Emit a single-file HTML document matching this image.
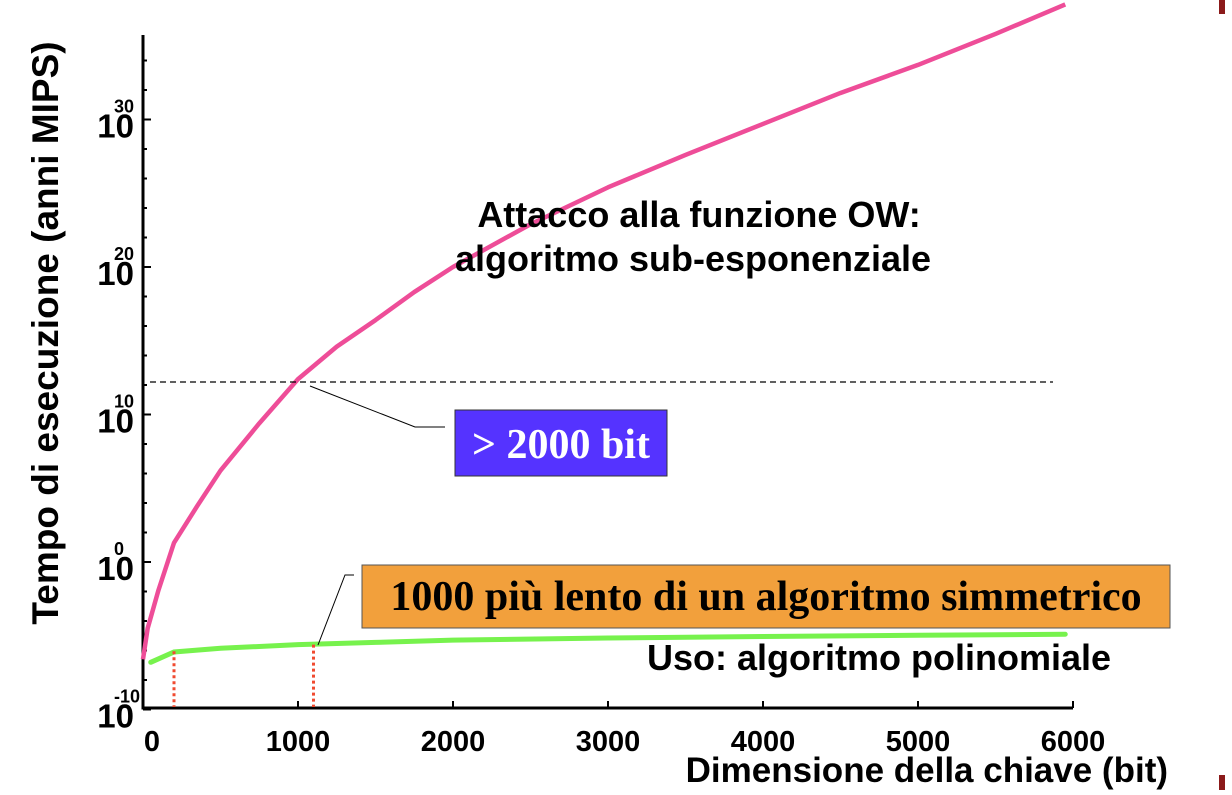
<!DOCTYPE html>
<html><head><meta charset="utf-8"><style>
body{margin:0;background:#fff;width:1232px;height:790px;overflow:hidden}
svg text{font-family:"Liberation Sans",sans-serif;font-weight:bold}
</style></head><body>
<svg id="chart" width="1232" height="790" xmlns="http://www.w3.org/2000/svg">
<rect x="1219" y="0" width="6" height="14" fill="#8b1a1a"/>
<rect x="1219" y="775" width="6" height="15" fill="#8b1a1a"/>
<g id="axes"></g>
<g id="marks"></g>
<text x="58" y="333" font-size="37" text-anchor="middle" transform="rotate(-90 58 333)">Tempo di esecuzione  (anni MIPS)</text>
<text x="1168" y="782" font-size="35" text-anchor="end">Dimensione della chiave (bit)</text>
<text x="699" y="227" font-size="36" text-anchor="middle">Attacco alla funzione OW:</text>
<text x="693" y="271" font-size="36" text-anchor="middle">algoritmo sub-esponenziale</text>
<text x="879" y="670" font-size="36" text-anchor="middle">Uso: algoritmo polinomiale</text>
<line x1="150" y1="382" x2="1053" y2="382" stroke="#000" stroke-width="1.2" stroke-dasharray="6,4"/>
<polyline points="310,386 415,427 445,427" fill="none" stroke="#000" stroke-width="1"/>
<rect x="455" y="410" width="212" height="66" fill="#5533ff" stroke="#333" stroke-width="1"/>
<text x="561" y="458" font-size="42" fill="#fff" text-anchor="middle" style="font-family:'Liberation Serif',serif">&gt; 2000 bit</text>
<polyline points="318,645 345,575 354,575" fill="none" stroke="#000" stroke-width="1"/>
<rect x="362" y="565" width="808" height="63" fill="#f2a03c" stroke="#555" stroke-width="1"/>
<text x="766" y="610" font-size="42" fill="#000" text-anchor="middle" style="font-family:'Liberation Serif',serif">1000 più lento di un algoritmo simmetrico</text>
</svg>
<script>
const xTicks=[0,1000,2000,3000,4000,5000,6000];
const yTicks=[-10,0,10,20,30];
const pinkX=[0,30,100,200,350,500,750,1000,1250,1500,1750,2000,2500,3000,3500,4000,4500,5000,5500,5950];
const pinkY=[-6.6,-4.5,-1.9,1.3,3.8,6.2,9.4,12.4,14.6,16.4,18.3,20.0,22.9,25.4,27.6,29.7,31.8,33.7,35.8,37.8];
const greenX=[50,200,500,1000,1500,2000,3000,4000,5000,5950];
const greenY=[-6.8,-6.1,-5.85,-5.6,-5.45,-5.3,-5.15,-5.05,-4.97,-4.9];
const dropX=[200,1100];
const dropY=[-6.05,-5.6];
const ns="http://www.w3.org/2000/svg";
const X=v=>143+v*0.155;
const Y=v=>562-v*14.75;
function mk(t,a,p){const e=document.createElementNS(ns,t);for(const k in a)e.setAttribute(k,a[k]);p.appendChild(e);return e;}
const ax=document.getElementById('axes'),mg=document.getElementById('marks');
let yl=mk('line',{x1:143,y1:35,x2:143,y2:709,stroke:'#000','stroke-width':3},ax);


let xl=mk('line',{x1:141.5,y1:708,x2:1073,y2:708,stroke:'#000','stroke-width':3},ax);


for(let d=-10;d<=38;d+=2){const y=Y(d);if(y<35)continue;const maj=d%10===0;
 const t=mk('line',{x1:143,y1:y,x2:maj?151:147,y2:y,stroke:'#000','stroke-width':2},ax);
 
 }
yTicks.forEach(v=>{const y=Y(v);
 const t=mk('text',{x:134,y:y+18,'font-size':33,'text-anchor':'end'},ax);t.textContent='10';
 
 
 const s=mk('text',{x:114,y:y-7,'font-size':18},ax);s.textContent=String(v);
 
 });
xTicks.forEach(v=>{const x=X(v);
 if(v>0){const tk=mk('line',{x1:x,y1:701,x2:x,y2:708,stroke:'#000','stroke-width':2},ax);
 
 }
 const t=mk('text',{x:v===0?152:x,y:751,'font-size':29,'text-anchor':'middle'},ax);t.textContent=String(v);
 
 });
const pp=mk('polyline',{points:pinkX.map((v,i)=>X(v)+','+Y(pinkY[i])).join(' '),fill:'none',stroke:'#ee4d98','stroke-width':4.5,'stroke-linejoin':'round'},mg);


const gp=mk('polyline',{points:greenX.map((v,i)=>X(v)+','+Y(greenY[i])).join(' '),fill:'none',stroke:'#77f24d','stroke-width':5,'stroke-linecap':'round'},mg);


dropX.forEach((v,i)=>{const l=mk('line',{x1:X(v),y1:Y(dropY[i]),x2:X(v),y2:707,stroke:'#f04a30','stroke-width':3,'stroke-dasharray':'3,3'},mg);
 
 });
</script>
</body></html>
